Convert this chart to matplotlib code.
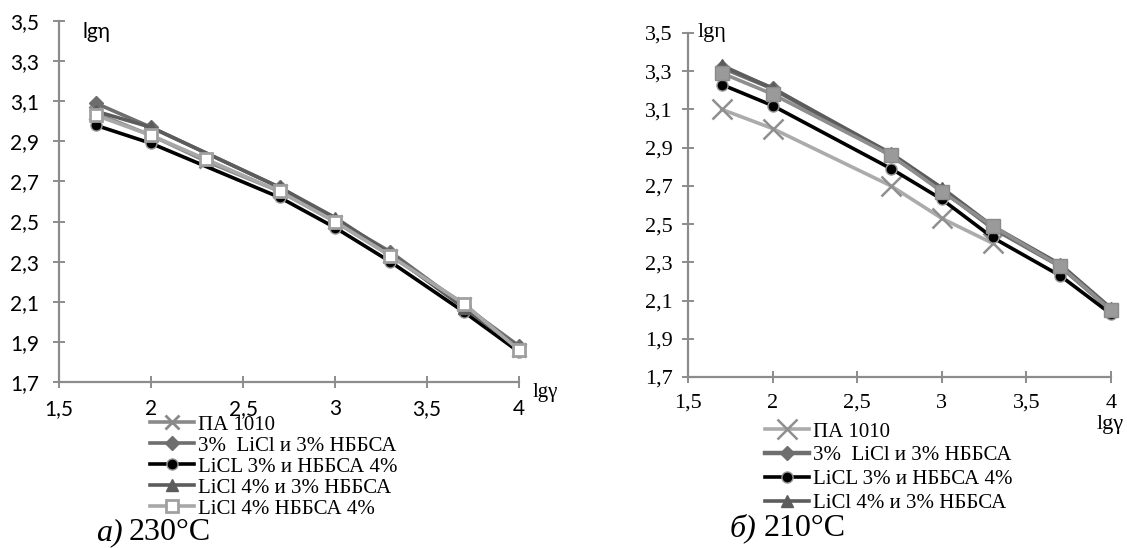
import matplotlib
matplotlib.use("Agg")
import matplotlib.pyplot as plt

# ── data ─────────────────────────────────────────────────────────────────────
labels = ["ПА 1010", "3%  LiCl и 3% НББСА", "LiCL 3% и НББСА 4%",
          "LiCl 4% и 3% НББСА", "LiCl 4% НББСА 4%"]

# a) 230 °C
x_230_full = [1.7, 2, 2.3, 2.7, 3, 3.3, 3.7, 4]
x_230 = [1.7, 2, 2.7, 3, 3.3, 3.7, 4]
pa_230 = [3.04, 2.93, 2.80, 2.65, 2.50, 2.33, 2.09, 1.86]
dia_230 = [3.09, 2.97, 2.67, 2.51, 2.35, 2.08, 1.88]
circ_230 = [2.98, 2.89, 2.62, 2.47, 2.30, 2.05, 1.85]
tri_230 = [3.05, 2.97, 2.67, 2.52, 2.34, 2.07, 1.87]
sq_230 = [3.03, 2.93, 2.81, 2.65, 2.50, 2.33, 2.09, 1.86]

# б) 210 °C
x_pa_210 = [1.7, 2, 2.7, 3, 3.3]
pa_210 = [3.10, 3.00, 2.70, 2.53, 2.40]
x_210 = [1.7, 2, 2.7, 3, 3.3, 3.7, 4]
dia_210 = [3.32, 3.21, 2.86, 2.68, 2.48, 2.28, 2.05]
circ_210 = [3.23, 3.12, 2.79, 2.63, 2.43, 2.23, 2.03]
tri_210 = [3.33, 3.21, 2.87, 2.69, 2.49, 2.29, 2.06]
sq_210 = [3.29, 3.18, 2.86, 2.67, 2.49, 2.28, 2.05]

x_ticks = [1.5, 2, 2.5, 3, 3.5, 4]
y_ticks = [1.7, 1.9, 2.1, 2.3, 2.5, 2.7, 2.9, 3.1, 3.3, 3.5]

SERIF = "Liberation Serif"
SANS = "Lato"
AXIS_GREY = "#8c8c8c"
LW = 2.6


def comma(v):
    return f"{v:g}".replace(".", ",")


def style_axes(ax, font, size, xpad, ypad):
    ax.set_xlim(1.5, 4)
    ax.set_ylim(1.7, 3.5)
    ax.set_xticks(x_ticks, [comma(v) for v in x_ticks])
    ax.set_yticks(y_ticks, [comma(v) for v in y_ticks])
    for s in ["top", "right"]:
        ax.spines[s].set_visible(False)
    for s in ["left", "bottom"]:
        ax.spines[s].set_color(AXIS_GREY)
        ax.spines[s].set_linewidth(1.6)
    ax.tick_params(direction="inout", length=8, width=1.4, color=AXIS_GREY,
                   labelcolor="black", labelsize=size, labelfontfamily=font)
    ax.tick_params(axis="x", pad=xpad)
    ax.tick_params(axis="y", pad=ypad)
    for t in ax.get_xticklabels() + ax.get_yticklabels():
        t.set_fontfamily(font)
        t.set_fontsize(size)


fig = plt.figure(figsize=(11.27, 5.48), dpi=100)

# ══════════════════════════════════════════════════════════════════════════════
# a) 230°C
# ══════════════════════════════════════════════════════════════════════════════
ax1 = fig.add_axes([0.0524, 0.3029, 0.4081, 0.6588])
ax1.plot(x_230_full, pa_230, color="#8a8a8a", lw=LW, marker="x", ms=10, mew=2,
         label=labels[0], clip_on=False)
ax1.plot(x_230, dia_230, color="#6e6e6e", lw=LW, marker="D", ms=7,
         label=labels[1], clip_on=False)
ax1.plot(x_230, circ_230, color="black", lw=LW, marker="o", ms=8,
         mec="#9a9a9a", mew=1, label=labels[2], clip_on=False)
ax1.plot(x_230, tri_230, color="#5c5c5c", lw=LW, marker="^", ms=9,
         label=labels[3], clip_on=False)
ax1.plot(x_230_full, sq_230, color="#a8a8a8", lw=LW, marker="s", ms=9,
         mfc="white", mec="#a0a0a0", mew=2, label=labels[4], clip_on=False)
style_axes(ax1, SANS, 15, 8, 10.5)
fig.text(82 / 1127, 1 - 32 / 548, "lgη", family=SANS, fontsize=15,
         ha="left", va="center")
fig.text(533 / 1127, 1 - 392 / 548, "lgγ", family=SERIF, fontsize=15,
         ha="left", va="center")
fig.legend(*ax1.get_legend_handles_labels(), loc="upper left",
           bbox_to_anchor=(150 / 1127, 1 - 415 / 548), frameon=False,
           prop={"family": SERIF, "size": 15}, borderpad=0, borderaxespad=0,
           labelspacing=0.07, handlelength=2.1, handletextpad=0.2)
fig.text(96 / 1127, 1 - 533 / 548, "а)", family=SERIF, style="italic",
         fontsize=23, ha="left", va="center")
fig.text(129 / 1127, 1 - 533 / 548, "230°С", family=SERIF,
         fontsize=23, ha="left", va="center")

# ══════════════════════════════════════════════════════════════════════════════
# б) 210°C
# ══════════════════════════════════════════════════════════════════════════════
ax2 = fig.add_axes([0.6105, 0.312, 0.3753, 0.6278])
ax2.plot(x_pa_210, pa_210, color="#ababab", lw=LW, marker="x", ms=14, mew=1.8,
         mec="#8f8f8f", label=labels[0], clip_on=False)
ax2.plot(x_210, dia_210, color="#6e6e6e", lw=LW + 0.6, marker="D", ms=7,
         label=labels[1], clip_on=False)
ax2.plot(x_210, circ_210, color="black", lw=LW, marker="o", ms=8,
         mec="#9a9a9a", mew=1, label=labels[2], clip_on=False)
ax2.plot(x_210, tri_210, color="#5c5c5c", lw=LW, marker="^", ms=9,
         label=labels[3], clip_on=False)
ax2.plot(x_210, sq_210, color="#8e8e8e", lw=LW, marker="s", ms=10,
         mfc="#9a9a9a", mec="#8a8a8a", clip_on=False)
style_axes(ax2, SERIF, 16, 8, 7)
fig.text(698 / 1127, 1 - 33 / 548, "lgη", family=SERIF, fontsize=16,
         ha="left", va="center")
fig.text(1097 / 1127, 1 - 425 / 548, "lgγ", family=SERIF, fontsize=16,
         ha="left", va="center")
h2, l2 = ax2.get_legend_handles_labels()
fig.legend(h2, l2, loc="upper left",
           bbox_to_anchor=(765 / 1127, 1 - 422 / 548), frameon=False,
           prop={"family": SERIF, "size": 15}, borderpad=0, borderaxespad=0,
           labelspacing=0.2, handlelength=2.1, handletextpad=0.2)
fig.text(730 / 1127, 1 - 528 / 548, "б)", family=SERIF, style="italic",
         fontsize=23, ha="left", va="center")
fig.text(764 / 1127, 1 - 528 / 548, "210°С", family=SERIF,
         fontsize=23, ha="left", va="center")

fig.savefig("out.png", dpi=100)
